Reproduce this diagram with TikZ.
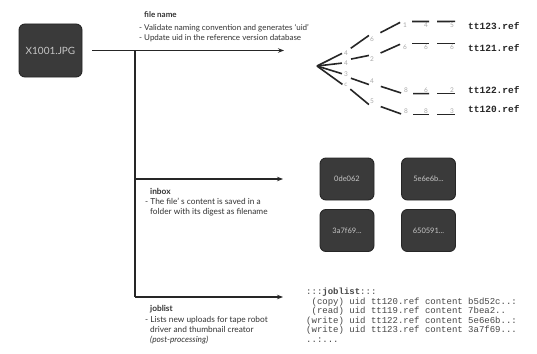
\documentclass[tikz,border=0pt]{standalone}
\usepackage{fontspec}
\setmainfont{Lato}
\setmonofont{Liberation Mono}
\usetikzlibrary{arrows.meta}
\definecolor{boxfill}{HTML}{3A3A3A}
\definecolor{inkc}{HTML}{262626}
\definecolor{txtc}{HTML}{333333}
\definecolor{digc}{HTML}{A8A8A8}
\begin{document}
\begin{tikzpicture}[x=1pt,y=-1pt,
  darkbox/.style={draw=inkc, line width=0.9pt, fill=boxfill, rounded corners=6pt, text=white!78!black, inner sep=0pt},
  trunk/.style={draw=inkc, line width=1.5pt},
  arr/.style={trunk, -{Stealth[length=6pt,width=4.5pt]}},
  desc/.style={anchor=north west, align=left, text=txtc, inner sep=0pt},
  dig/.style={font=\fontsize{6.5}{6.5}\selectfont, text=digc, inner sep=1pt},
  leaf/.style={font=\ttfamily\bfseries\fontsize{9.5}{10}\selectfont, anchor=west, inner sep=0pt, text=inkc},
  tedge/.style={draw=inkc, line width=1.6pt},
]
\useasboundingbox[fill=white] (0,0) rectangle (537,353);

% main image box
\node[darkbox, minimum width=63pt, minimum height=53pt, font=\fontsize{10}{12}\selectfont] (img) at (50.5,50.5) {X1001.JPG};

% trunk coordinates
\coordinate (topend) at (284,50.5);
\coordinate (jv) at (135,50.5);
\coordinate (mid) at (135,179);
\coordinate (midend) at (283,179);
\coordinate (bot) at (135,297);
\coordinate (botend) at (283,297);

\draw[arr, shorten <=10pt] (img.east) -- (topend);
\draw[trunk] (jv) -- (bot);
\draw[arr] (mid) -- (midend);
\draw[arr] (bot) -- (botend);

% descriptions
\node[desc, font=\fontsize{8}{10}\selectfont] (dfile) at (139,11)
  {\hspace{5pt}\textbf{file name}\\[3pt]- Validate naming convention and generates `uid'\\- Update uid in the reference version database};
\node[desc, font=\fontsize{8.3}{9.5}\selectfont] (dinbox) at (145,188)
  {\hspace{5pt}\textbf{inbox}\\[1pt]- The file' s content is saved in a\\\hspace{5pt}folder with its digest as filename};
\node[desc, font=\fontsize{8.3}{10}\selectfont] (djob) at (145,305)
  {\hspace{5pt}\textbf{joblist}\\[1pt]- Lists new uploads for tape robot\\\hspace{5pt}driver and thumbnail creator\\\hspace{5pt}\textit{(post-processing)}};

% inbox digest boxes
\tikzset{smallbox/.style={darkbox, minimum width=54pt, minimum height=42pt, font=\fontsize{7.5}{9}\selectfont}}
\node[smallbox] (h1) at (347,179) {0de062};
\node[smallbox] (h2) at (428.5,179) {5e6e6b...};
\node[smallbox] (h3) at (347,230.5) {3a7f69...};
\node[smallbox] (h4) at (428.5,230.5) {650591...};

% joblist listing
\node[anchor=north west, align=left, inner sep=0pt, text=black!72,
      font=\ttfamily\fontsize{9}{9.5}\selectfont] (jl) at (306,288)
  {:::\textbf{joblist}:::\\
   \hphantom{(}(copy) uid tt120.ref content b5d52c..:\\
   \hphantom{(}(read) uid tt119.ref content 7bea2..\\
   (write) uid tt122.ref content 5e6e6b..:\\
   (write) uid tt123.ref content 3a7f69...\\
   ..:...};

% version tree
\coordinate (r) at (317,66);
\node[dig] (a1) at (346,53) {4};
\node[dig] (a2) at (346,63) {4};
\node[dig] (a3) at (346,74) {3};
\node[dig] (a4) at (346,85) {c};
\node[dig] (b1) at (372,39) {6};
\node[dig] (b2) at (372,59) {2};
\node[dig] (b3) at (372,81) {4};
\node[dig] (b4) at (372,101) {5};
\node[dig] (c1) at (405,25) {1};
\node[dig] (c2) at (405,47) {6};
\node[dig] (c3) at (406,90) {8};
\node[dig] (c4) at (406,111) {8};
\node[dig] (d1) at (426,25) {4};
\node[dig] (d2) at (426,47) {6};
\node[dig] (d3) at (426,90) {6};
\node[dig] (d4) at (426,111) {8};
\node[dig] (e1) at (452,25) {5};
\node[dig] (e2) at (452,47) {6};
\node[dig] (e3) at (452,90) {2};
\node[dig] (e4) at (452,111) {3};
\node[leaf] (f1) at (468,26) {tt123.ref};
\node[leaf] (f2) at (468,48) {tt121.ref};
\node[leaf] (f3) at (468,90) {tt122.ref};
\node[leaf] (f4) at (468,109) {tt120.ref};

\foreach \i in {1,2,3,4} {\draw[tedge, shorten >=1pt] (r) -- (a\i.west);}
\draw[tedge, shorten <=2pt] (a1.north east) -- (b1.north west);
\draw[tedge, shorten <=2pt] (a2.north east) -- (b2.north west);
\draw[tedge, shorten <=2pt] (a3.south east) -- (b3.south west);
\draw[tedge, shorten <=2pt] (a4.south east) -- (b4.south west);
\draw[tedge, shorten <=6pt, shorten >=2pt] (b1.north east) -- (c1.north west);
\draw[tedge, shorten <=6pt, shorten >=2pt] (b2.north east) -- (c2.north west);
\draw[tedge, shorten <=6pt, shorten >=2pt] (b3.south east) -- (c3.south west);
\draw[tedge, shorten <=6pt, shorten >=2pt] (b4.south east) -- (c4.south west);
\foreach \i in {1,2} {
  \draw[tedge, shorten <=4pt] (c\i.north east) -- (d\i.north east);
  \draw[tedge, shorten <=8pt] (d\i.north east) -- (e\i.north east);
}
\foreach \i in {3,4} {
  \draw[tedge, shorten <=4pt] (c\i.south east) -- (d\i.south east);
  \draw[tedge, shorten <=8pt] (d\i.south east) -- (e\i.south east);
}
\end{tikzpicture}
\end{document}
